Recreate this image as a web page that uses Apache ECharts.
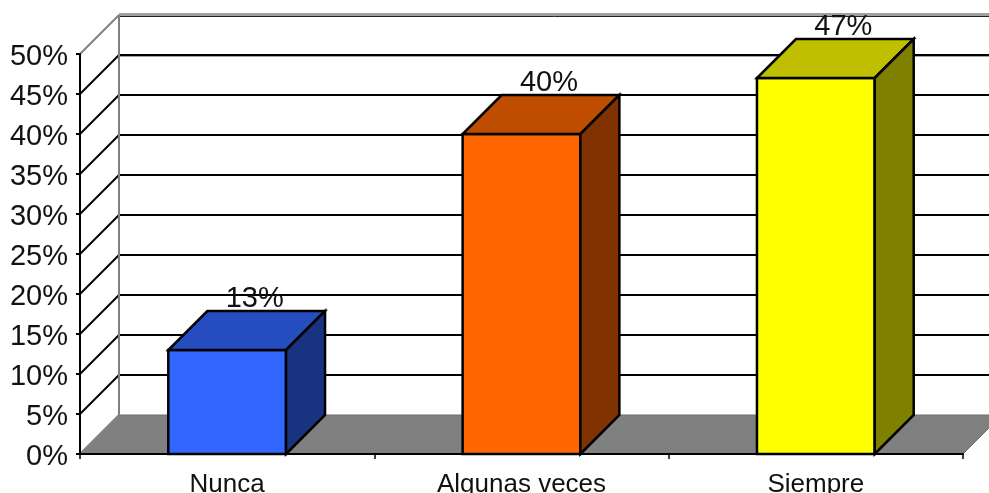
<!DOCTYPE html>
<html>
<head>
<meta charset="utf-8">
<style>html,body{margin:0;padding:0;background:#fff}#chart{width:989px;height:493px}</style>
<script src="https://cdn.jsdelivr.net/npm/echarts@6/dist/echarts.min.js"></script>
</head>
<body>
<div id="chart"></div>
<script>
// Respuestas por categoría, en porcentaje
const categories = ['Nunca', 'Algunas veces', 'Siempre'];
const shares = [13, 40, 47];
const scaleTicks = [0, 5, 10, 15, 20, 25, 30, 35, 40, 45, 50];

const faceFront = ['#3366FF', '#FF6600', '#FFFF00'];
const faceTop = ['#264DBF', '#BF4D00', '#BFBF00'];
const faceSide = ['#1A3380', '#803300', '#808000'];

// Oblique offset of the back plane, and bar width as a share of the band
const DEPTH = 39;
const BAR_SHARE = 0.4;
const FONT = '"Liberation Sans", Arial, sans-serif';

const chart = echarts.init(document.getElementById('chart'), null, { renderer: 'canvas' });

const segment = (x1, y1, x2, y2, stroke, lineWidth) => ({
  type: 'line',
  shape: { x1, y1, x2, y2 },
  style: { stroke, lineWidth, fill: null }
});
const poly = (points, fill, stroke, lineWidth) => ({
  type: 'polygon',
  shape: { points },
  style: { fill, stroke, lineWidth, lineJoin: 'miter' }
});

// Floor of the plot box
function renderFloor(params, api) {
  const band = api.size([1, 0])[0];
  const n = categories.length;
  const y0 = api.coord([0, 0])[1];
  const left = api.coord([0, 0])[0] - band / 2;
  const right = api.coord([n - 1, 0])[0] + band / 2;
  return poly(
    [[left, y0], [right, y0], [right + DEPTH, y0 - DEPTH], [left + DEPTH, y0 - DEPTH]],
    '#808080', '#6e6e6e', 1
  );
}

// One gridline per scale tick: slanted on the side wall, level on the back wall
function renderGridLine(params, api) {
  const band = api.size([1, 0])[0];
  const n = categories.length;
  const v = api.value(1);
  const y = api.coord([0, v])[1];
  const left = api.coord([0, 0])[0] - band / 2;
  const right = api.coord([n - 1, 0])[0] + band / 2;
  const edge = v === scaleTicks[0] || v === scaleTicks[scaleTicks.length - 1];
  const colour = edge ? '#808080' : '#000000';
  const children = [segment(left, y, left + DEPTH, y - DEPTH, colour, 2)];
  if (v === scaleTicks[scaleTicks.length - 1]) {
    children.push(segment(left + DEPTH, y - DEPTH - 0.5, right + DEPTH, y - DEPTH - 0.5, '#a0a0a0', 3));
    children.push(segment(left + DEPTH, y - DEPTH + 1.5, right + DEPTH, y - DEPTH + 1.5, '#222222', 1));
    children.push(segment(left + DEPTH, y + 2.5, right + DEPTH, y + 2.5, '#a0a0a0', 1));
    const y0 = api.coord([0, 0])[1];
    children.push(segment(left + DEPTH, y - DEPTH, left + DEPTH, y0 - DEPTH, '#808080', 2));
  } else if (v !== scaleTicks[0]) {
    children.push(segment(left + DEPTH, y - DEPTH, right + DEPTH, y - DEPTH, '#000000', 2));
  }
  return { type: 'group', children };
}

// Oblique box for one answer, with its percentage above the back edge
function renderBox(params, api) {
  const i = api.value(0);
  const v = api.value(1);
  const band = api.size([1, 0])[0];
  const cx = api.coord([i, v])[0];
  const top = api.coord([i, v])[1];
  const base = api.coord([i, 0])[1];
  const half = band * BAR_SHARE / 2;
  const l = cx - half;
  const r = cx + half;
  const d = DEPTH;
  return {
    type: 'group',
    children: [
      poly([[l, base], [r, base], [r, top], [l, top]], faceFront[i], '#000000', 2.5),
      poly([[l, top], [r, top], [r + d, top - d], [l + d, top - d]], faceTop[i], '#000000', 2.5),
      poly([[r, base], [r + d, base - d], [r + d, top - d], [r, top]], faceSide[i], '#000000', 2.5),
      {
        type: 'text',
        style: {
          text: v + '%',
          x: cx + 27.5,
          y: top - d + 2,
          align: 'center',
          verticalAlign: 'bottom',
          font: '29px ' + FONT,
          fill: '#111111'
        }
      }
    ]
  };
}

chart.setOption({
  animation: false,
  backgroundColor: '#ffffff',
  grid: { left: 80, right: 26, top: 54, bottom: 39, containLabel: false, outerBoundsMode: 'none' },
  xAxis: {
    type: 'category',
    data: categories,
    z: 3,
    axisLine: { lineStyle: { color: '#000000', width: 2 } },
    axisTick: { show: true, length: 5, alignWithLabel: false, lineStyle: { color: '#000000', width: 1.5 } },
    axisLabel: { color: '#111111', fontFamily: FONT, fontSize: 26, margin: 18, interval: 0, hideOverlap: false },
    splitLine: { show: false }
  },
  yAxis: {
    type: 'value',
    min: 0,
    max: 50,
    interval: 5,
    z: 3,
    axisLine: { show: true, lineStyle: { color: '#000000', width: 2 } },
    axisTick: { show: true, length: 4, lineStyle: { color: '#000000', width: 2 } },
    axisLabel: {
      color: '#111111', fontFamily: FONT, fontSize: 29, margin: 12,
      verticalAlign: 'top', lineHeight: 5,
      formatter: '{value}%', hideOverlap: false
    },
    splitLine: { show: false }
  },
  series: [
    { type: 'custom', z: 1, silent: true, renderItem: renderFloor, data: [[0, 0]], encode: { x: 0, y: 1 } },
    { type: 'custom', z: 2, silent: true, renderItem: renderGridLine, data: scaleTicks.map(t => [0, t]), encode: { x: 0, y: 1 } },
    { type: 'custom', z: 4, silent: true, renderItem: renderBox, data: shares.map((s, i) => [i, s]), encode: { x: 0, y: 1 } }
  ]
});
</script>
</body>
</html>
